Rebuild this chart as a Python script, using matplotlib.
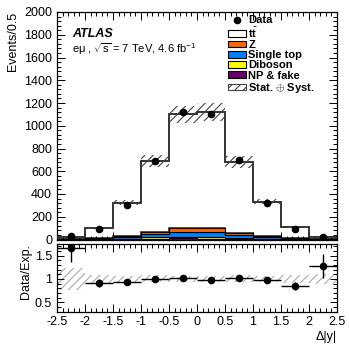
import numpy as np
import matplotlib
matplotlib.use("Agg")
import matplotlib.pyplot as plt
from matplotlib.patches import Patch
from matplotlib.lines import Line2D
from matplotlib.ticker import MultipleLocator, FuncFormatter

plt.rcParams['font.family'] = ['Liberation Sans', 'DejaVu Sans']
plt.rcParams['mathtext.fontset'] = 'custom'
plt.rcParams['mathtext.rm'] = 'Liberation Sans'
plt.rcParams['mathtext.it'] = 'Liberation Sans:italic'
plt.rcParams['mathtext.bf'] = 'Liberation Sans:bold'
plt.rcParams['hatch.linewidth'] = 0.8

# binning in delta|y|
edges = np.arange(-2.5, 2.51, 0.5)

# background contributions per bin (events)
np_fake = [0.3, 1, 3, 8, 10, 8, 5, 3, 1, 0.3]
diboson = [0.5, 2, 5, 10, 12, 16, 8, 5, 2, 0.5]
single_top = [1.5, 5, 14, 30, 40, 38, 25, 14, 5, 1.5]
z_bkg = [0.7, 2, 8, 20, 36, 38, 16, 8, 2, 0.7]
# total expectation and data
total_exp = [18, 101, 323, 693, 1099, 1122, 684, 331, 107, 19.5]
data = [30, 92, 305, 687, 1122, 1102, 699, 320, 90, 25]
# relative stat+syst uncertainty of the expectation
rel_unc = [0.24, 0.08, 0.07, 0.075, 0.07, 0.07, 0.075, 0.07, 0.09, 0.11]
# data error in the ratio
ratio_err = [0.30, 0.08, 0.05, 0.035, 0.03, 0.03, 0.035, 0.05, 0.09, 0.26]

centers = 0.5 * (edges[1:] + edges[:-1])
total_exp = np.array(total_exp)
data = np.array(data)
rel_unc = np.array(rel_unc)

fig = plt.figure(figsize=(3.49, 3.46), dpi=100)
W, H = 349.0, 346.0
ax1 = fig.add_axes([57 / W, 1 - 239.5 / H, 280 / W, 227.5 / H])
ax2 = fig.add_axes([57 / W, 1 - 311.5 / H, 280 / W, 67.5 / H])

# stacked backgrounds, bottom to top
layers = [(np_fake, '#660066'), (diboson, '#ffff00'),
          (single_top, '#0080ff'), (z_bkg, '#ff6600')]
base = np.zeros(len(centers))
for vals, col in layers:
    top = base + np.array(vals)
    ax1.stairs(top, edges, baseline=base, fill=True, facecolor=col,
               edgecolor='black', linewidth=0.8, zorder=2)
    base = top
# ttbar on top
ax1.stairs(total_exp, edges, baseline=base, fill=True, facecolor='white',
           edgecolor='#333333', linewidth=1.2, zorder=1)
ax1.stairs(total_exp, edges, baseline=None, color='#333333', linewidth=1.2, zorder=3)

# uncertainty band
ax1.bar(centers, 2 * total_exp * rel_unc, bottom=total_exp * (1 - rel_unc),
        width=0.5, facecolor='none', edgecolor='#444444', hatch='////',
        linewidth=0, zorder=4)

ax1.plot(centers, data, 'o', color='black', markersize=4.5, zorder=5)

ax1.set_xlim(-2.5, 2.5)
ax1.set_ylim(0, 2000)
ax1.yaxis.set_major_locator(MultipleLocator(200))
ax1.yaxis.set_minor_locator(MultipleLocator(40))
ax1.xaxis.set_major_locator(MultipleLocator(0.5))
ax1.xaxis.set_minor_locator(MultipleLocator(0.1))
ax1.tick_params(labelbottom=False)
ax1.set_ylabel('Events/0.5', loc='top', fontsize=9, labelpad=4)

ax1.text(0.055, 0.905, 'ATLAS', transform=ax1.transAxes, fontsize=9,
         fontweight='bold', fontstyle='italic', va='center')
ax1.text(0.055, 0.835, 'e\u03bc , $\\sqrt{\\mathrm{s}}$ = 7 TeV, 4.6 fb$^{-1}$',
         transform=ax1.transAxes, fontsize=8, va='center')

handles = [Line2D([], [], marker='o', color='black', linestyle='none', markersize=4.5),
           Patch(facecolor='white', edgecolor='black', linewidth=0.8),
           Patch(facecolor='#ff6600', edgecolor='black', linewidth=0.8),
           Patch(facecolor='#0080ff', edgecolor='black', linewidth=0.8),
           Patch(facecolor='#ffff00', edgecolor='black', linewidth=0.8),
           Patch(facecolor='#660066', edgecolor='black', linewidth=0.8),
           Patch(facecolor='white', edgecolor='#444444', hatch='////', linewidth=0.8)]
labels = ['Data', r'$\mathbf{t}\bar{\mathbf{t}}$', 'Z', 'Single top', 'Diboson',
          'NP & fake', 'Stat. $\\oplus$ Syst.']
leg = ax1.legend(handles, labels, loc='upper left', bbox_to_anchor=(0.61, 0.985),
                 frameon=False, prop={'size': 8, 'weight': 'bold'},
                 handlelength=1.6, handleheight=0.55, handletextpad=0.25,
                 labelspacing=0.02, borderpad=0, borderaxespad=0)

# ratio panel
ax2.bar(centers, 2 * rel_unc, bottom=1 - rel_unc, width=0.5, facecolor='none',
        edgecolor='#aaaaaa', hatch='////', linewidth=0, zorder=1)
ratio = data / total_exp
ax2.errorbar(centers, ratio, xerr=0.25, yerr=ratio_err, fmt='o', color='black',
             markersize=4.5, elinewidth=1, capsize=0, zorder=3)
ax2.set_xlim(-2.5, 2.5)
ax2.set_ylim(0.3, 1.75)
ax2.yaxis.set_major_locator(MultipleLocator(0.5))
ax2.yaxis.set_minor_locator(MultipleLocator(0.1))
ax2.xaxis.set_major_locator(MultipleLocator(0.5))
ax2.xaxis.set_minor_locator(MultipleLocator(0.1))
ax2.yaxis.set_major_formatter(FuncFormatter(lambda v, p: f'{v:g}'))
ax2.xaxis.set_major_formatter(FuncFormatter(lambda v, p: f'{v:g}'))
ax2.set_ylabel('Data/Exp.', loc='top', fontsize=9, labelpad=2)
ax2.set_xlabel('\u0394|y|', loc='right', fontsize=9, labelpad=2)

for ax in (ax1, ax2):
    for s in ax.spines.values():
        s.set_linewidth(0.9)
    ax.tick_params(which='both', direction='in', top=True, right=True,
                   labelsize=9, width=0.7)
    ax.tick_params(which='major', length=6)
    ax.tick_params(which='minor', length=3)
ax2.tick_params(axis='y', which='major', length=5)

fig.savefig('out.png', dpi=100)
